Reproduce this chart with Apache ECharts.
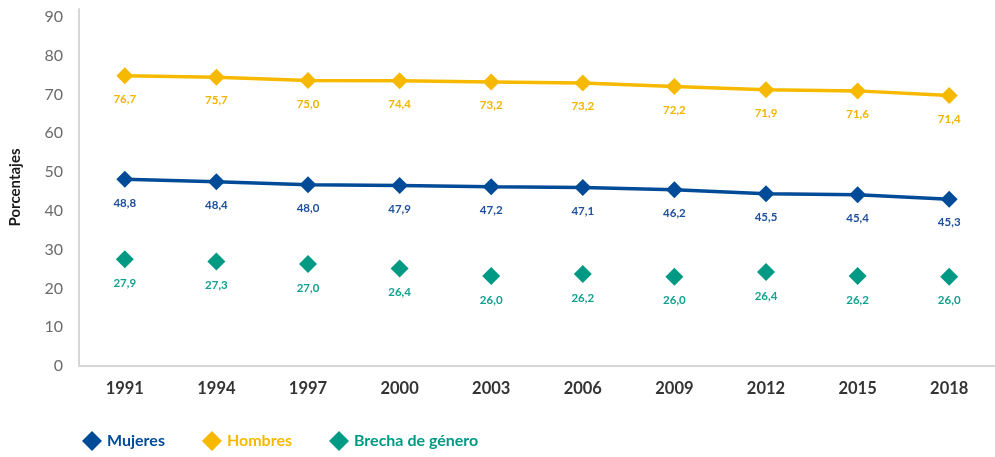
<!DOCTYPE html>
<html>
<head>
<meta charset="utf-8">
<script src="https://cdn.jsdelivr.net/npm/echarts@6/dist/echarts.min.js"></script>
<style>
html,body{margin:0;padding:0;background:#fff;}
#c{width:995px;height:457px;}
</style>
</head>
<body>
<div id="c"></div>
<script>
// Categories
var years = ['1991','1994','1997','2000','2003','2006','2009','2012','2015','2018'];
// Plotted positions
var mujeres = [48.1, 47.5, 46.7, 46.5, 46.2, 46.0, 45.4, 44.4, 44.1, 43.0];
var hombres = [74.8, 74.4, 73.6, 73.5, 73.2, 72.9, 72.0, 71.2, 70.9, 69.7];
var brecha  = [27.5, 26.9, 26.3, 25.1, 23.2, 23.7, 23.0, 24.2, 23.2, 23.0];
// Printed data labels
var mujeresLabels = ['48,8','48,4','48,0','47,9','47,2','47,1','46,2','45,5','45,4','45,3'];
var hombresLabels = ['76,7','75,7','75,0','74,4','73,2','73,2','72,2','71,9','71,6','71,4'];
var brechaLabels  = ['27,9','27,3','27,0','26,4','26,0','26,2','26,0','26,4','26,2','26,0'];
// Series names
var seriesNames = ['Mujeres','Hombres','Brecha de género'];

var cMuj = '#004b97', cHom = '#f6b900', cBre = '#009a84';
var font = 'Lato, "Open Sans", sans-serif';

function lbl(arr, color){
  return {
    show: true, position: 'bottom', distance: 9,
    color: color, fontFamily: font, fontWeight: 'bold', fontSize: 11.5,
    formatter: function(p){ return arr[p.dataIndex]; }
  };
}

var chart = echarts.init(document.getElementById('c'), null, {renderer:'canvas'});
chart.setOption({
  animation: false,
  backgroundColor: '#ffffff',
  grid: {left: 76, top: 9, width: 946, bottom: 91, containLabel: false},
  xAxis: {
    type: 'category', data: years, boundaryGap: true,
    axisLine: {show: true, lineStyle: {color: '#d6d6d6', width: 2}},
    axisTick: {show: false},
    axisLabel: {color: '#333333', fontFamily: font, fontWeight: 'bold', fontSize: 16.5, margin: 14},
    splitLine: {show: false}
  },
  yAxis: {
    type: 'value', min: 0, max: 92, interval: 10,
    name: 'Porcentajes', nameLocation: 'middle', nameGap: 56, nameRotate: 90,
    nameTextStyle: {color: '#1a1a1a', fontFamily: font, fontWeight: 'bold', fontSize: 15},
    axisLine: {show: true, lineStyle: {color: '#d6d6d6', width: 2}},
    axisTick: {show: false},
    axisLabel: {color: '#6b6b6b', fontFamily: font, fontSize: 16, margin: 16, showMaxLabel: false},
    splitLine: {show: false}
  },
  legend: {
    left: 77, top: 426, icon: 'diamond', itemWidth: 20, itemHeight: 20, itemGap: 37,
    textStyle: {fontFamily: font, fontWeight: 'bold', fontSize: 16},
    data: [
      {name: seriesNames[0], textStyle: {color: cMuj}},
      {name: seriesNames[1], textStyle: {color: cHom}},
      {name: seriesNames[2], textStyle: {color: cBre}}
    ]
  },
  series: [
    {
      name: seriesNames[0], type: 'line', data: mujeres,
      symbol: 'diamond', symbolSize: 17,
      itemStyle: {color: cMuj}, lineStyle: {color: cMuj, width: 3.5},
      label: lbl(mujeresLabels, '#1d4f9c')
    },
    {
      name: seriesNames[1], type: 'line', data: hombres,
      symbol: 'diamond', symbolSize: 17,
      itemStyle: {color: cHom}, lineStyle: {color: cHom, width: 3.5},
      label: lbl(hombresLabels, '#f2b400')
    },
    {
      name: seriesNames[2], type: 'line', data: brecha,
      symbol: 'diamond', symbolSize: 18,
      itemStyle: {color: cBre}, lineStyle: {width: 0, opacity: 0},
      label: lbl(brechaLabels, '#14a08f')
    }
  ]
});
</script>
</body>
</html>
